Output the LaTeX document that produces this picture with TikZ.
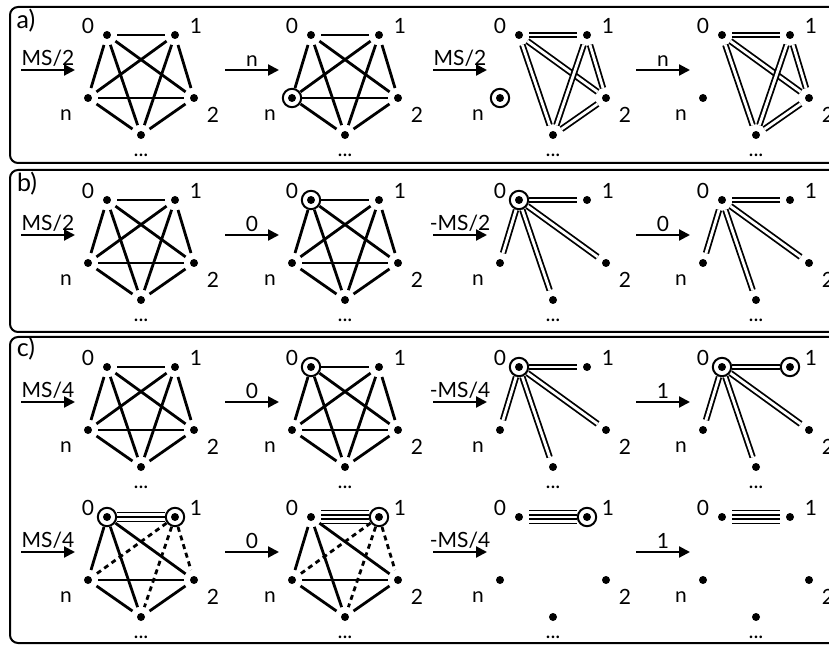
\documentclass[tikz,border=0pt]{standalone}
\usepackage{fontspec}
\setmainfont{Lato}
\usetikzlibrary{arrows.meta}

% one pentagon: vertices 0, 1, 2, b (bottom), n and their names
\newcommand{\graphat}[3]{%
  \begin{scope}[shift={(#2,#3)}]
    \node[VertexStyle] (#1-0) at (0,0) {};
    \node[VertexStyle] (#1-1) at (68,0) {};
    \node[VertexStyle] (#1-2) at (87,63) {};
    \node[VertexStyle] (#1-b) at (34,100) {};
    \node[VertexStyle] (#1-n) at (-19,63) {};
    \node[NameStyle] (#1-l0) at (-19,-9) {0};
    \node[NameStyle] (#1-l1) at (89,-9) {1};
    \node[NameStyle] (#1-l2) at (106,80) {2};
    \node[NameStyle] (#1-ln) at (-41,80) {n};
    \node[NameStyle] (#1-lb) at (34,120) {...};
  \end{scope}
  \foreach \k in {0,1,2,b,n} \fill (#1-\k) circle (2pt);}

% one step arrow with its label
\newcommand{\arrowat}[4]{%
  \coordinate (#1-s) at (#2,#3);
  \coordinate (#1-e) at (#2+54,#3);
  \draw[ArrowStyle] (#1-s) to node[StepLabel] (#1-t) {#4} (#1-e);}

\begin{document}
\begin{tikzpicture}[x=0.5pt, y=-0.5pt, font=\fontsize{10.5}{12}\selectfont]
    \tikzset{VertexStyle/.style = {circle, inner sep=0pt, minimum size=10pt}}
    \tikzset{RingStyle/.style = {draw=black, line width=1pt}}
    \tikzset{NameStyle/.style = {inner sep=0pt}}
    \tikzset{EdgeStyle/.style = {line width=1.4pt}}
    \tikzset{DoubleStyle/.style = {double, line width=0.9pt, double distance=1.4pt}}
    \tikzset{DashStyle/.style = {line width=1.4pt, dash pattern=on 2.5pt off 2pt}}
    \tikzset{ThinStyle/.style = {line width=0.85pt}}
    \tikzset{ArrowStyle/.style = {line width=1.1pt, -{Triangle[length=5.5pt,width=5.5pt]}}}
    \tikzset{StepLabel/.style = {above, inner sep=1.2pt}}
    \tikzset{PanelStyle/.style = {line width=1pt, rounded corners=4pt}}

    \clip (0,0) rectangle (829,646);

    % panels
    \draw[PanelStyle] (10,7) rectangle (870,163);
    \draw[PanelStyle] (10,170) rectangle (870,332);
    \draw[PanelStyle] (10,337) rectangle (870,643);
    \node[font=\fontsize{12.5}{14}\selectfont] (pa) at (26,21) {a)};
    \node[font=\fontsize{12.5}{14}\selectfont] (pb) at (27,184) {b)};
    \node[font=\fontsize{12.5}{14}\selectfont] (pc) at (26,349) {c)};

    % a)
    \graphat{a1}{107}{35}
    \arrowat{a1}{21}{70}{MS/2}
    \foreach \u/\v in {0/1,0/2,0/b,0/n,1/2,1/b,1/n,2/b,2/n,b/n}
        \draw[EdgeStyle] (a1-\u) -- (a1-\v);

    \graphat{a2}{311}{35}
    \arrowat{a2}{225}{70}{n}
    \foreach \u/\v in {0/1,0/2,0/b,0/n,1/2,1/b,1/n,2/b,2/n,b/n}
        \draw[EdgeStyle] (a2-\u) -- (a2-\v);
    \draw[RingStyle] (a2-n) circle (4.6pt);

    \graphat{a3}{519}{35}
    \arrowat{a3}{433}{70}{MS/2}
    \foreach \u/\v in {0/1,0/2,0/b,1/2,1/b,2/b}
        \draw[DoubleStyle] (a3-\u) -- (a3-\v);
    \draw[RingStyle] (a3-n) circle (4.6pt);

    \graphat{a4}{722}{35}
    \arrowat{a4}{636}{70}{n}
    \foreach \u/\v in {0/1,0/2,0/b,1/2,1/b,2/b}
        \draw[DoubleStyle] (a4-\u) -- (a4-\v);

    % b)
    \graphat{b1}{107}{200}
    \arrowat{b1}{21}{235}{MS/2}
    \foreach \u/\v in {0/1,0/2,0/b,0/n,1/2,1/b,1/n,2/b,2/n,b/n}
        \draw[EdgeStyle] (b1-\u) -- (b1-\v);

    \graphat{b2}{311}{200}
    \arrowat{b2}{225}{235}{0}
    \foreach \u/\v in {0/1,0/2,0/b,0/n,1/2,1/b,1/n,2/b,2/n,b/n}
        \draw[EdgeStyle] (b2-\u) -- (b2-\v);
    \draw[RingStyle] (b2-0) circle (4.6pt);

    \graphat{b3}{519}{200}
    \arrowat{b3}{433}{235}{-MS/2}
    \foreach \v in {1,2,b,n}
        \draw[DoubleStyle] (b3-0) -- (b3-\v);
    \draw[RingStyle] (b3-0) circle (4.6pt);

    \graphat{b4}{722}{200}
    \arrowat{b4}{636}{235}{0}
    \foreach \v in {1,2,b,n}
        \draw[DoubleStyle] (b4-0) -- (b4-\v);

    % c), first row
    \graphat{c1}{107}{367}
    \arrowat{c1}{21}{402}{MS/4}
    \foreach \u/\v in {0/1,0/2,0/b,0/n,1/2,1/b,1/n,2/b,2/n,b/n}
        \draw[EdgeStyle] (c1-\u) -- (c1-\v);

    \graphat{c2}{311}{367}
    \arrowat{c2}{225}{402}{0}
    \foreach \u/\v in {0/1,0/2,0/b,0/n,1/2,1/b,1/n,2/b,2/n,b/n}
        \draw[EdgeStyle] (c2-\u) -- (c2-\v);
    \draw[RingStyle] (c2-0) circle (4.6pt);

    \graphat{c3}{519}{367}
    \arrowat{c3}{433}{402}{-MS/4}
    \foreach \v in {1,2,b,n}
        \draw[DoubleStyle] (c3-0) -- (c3-\v);
    \draw[RingStyle] (c3-0) circle (4.6pt);

    \graphat{c4}{722}{367}
    \arrowat{c4}{636}{402}{1}
    \foreach \v in {1,2,b,n}
        \draw[DoubleStyle] (c4-0) -- (c4-\v);
    \draw[RingStyle] (c4-0) circle (4.6pt);
    \draw[RingStyle] (c4-1) circle (4.6pt);

    % c), second row
    \graphat{c5}{107}{517}
    \arrowat{c5}{21}{552}{MS/4}
    \foreach \u/\v in {0/n,0/b,0/2,n/2,n/b,b/2}
        \draw[EdgeStyle] (c5-\u) -- (c5-\v);
    \foreach \v in {n,b,2}
        \draw[DashStyle] (c5-1) -- (c5-\v);
    \foreach \s in {-2.3,0,2.3}
        \draw[ThinStyle, transform canvas={yshift=\s pt}] (c5-0) -- (c5-1);
    \draw[RingStyle] (c5-0) circle (4.6pt);
    \draw[RingStyle] (c5-1) circle (4.6pt);

    \graphat{c6}{311}{517}
    \arrowat{c6}{225}{552}{0}
    \foreach \u/\v in {0/n,0/b,0/2,n/2,n/b,b/2}
        \draw[EdgeStyle] (c6-\u) -- (c6-\v);
    \foreach \v in {n,b,2}
        \draw[DashStyle] (c6-1) -- (c6-\v);
    \foreach \s in {-3.3,-1.1,1.1,3.3}
        \draw[ThinStyle, transform canvas={yshift=\s pt}] (c6-0) -- (c6-1);
    \draw[RingStyle] (c6-1) circle (4.6pt);

    \graphat{c7}{519}{517}
    \arrowat{c7}{433}{552}{-MS/4}
    \foreach \s in {-3.3,-1.1,1.1,3.3}
        \draw[ThinStyle, transform canvas={yshift=\s pt}] (c7-0) -- (c7-1);
    \draw[RingStyle] (c7-1) circle (4.6pt);

    \graphat{c8}{722}{517}
    \arrowat{c8}{636}{552}{1}
    \foreach \s in {-3.3,-1.1,1.1,3.3}
        \draw[ThinStyle, transform canvas={yshift=\s pt}] (c8-0) -- (c8-1);
\end{tikzpicture}
\end{document}
